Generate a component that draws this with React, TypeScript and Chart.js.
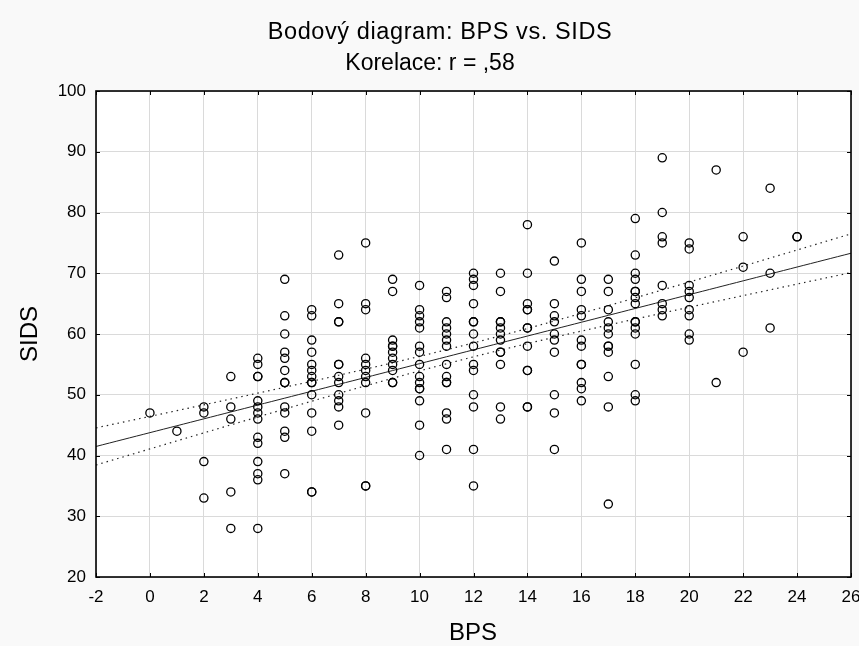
import React, { useEffect, useRef } from "react";
import { Chart, registerables } from "chart.js";

Chart.register(...registerables);

// ---- Text ----
const TITLE_LINE_1 = "Bodový diagram: BPS vs. SIDS";
const TITLE_LINE_2 = "Korelace: r = ,58";
const X_AXIS_LABEL = "BPS";
const Y_AXIS_LABEL = "SIDS";

// ---- Axes ----
const X_MIN = -2;
const X_MAX = 26;
const X_STEP = 2;
const Y_MIN = 20;
const Y_MAX = 100;
const Y_STEP = 10;

// ---- Data: BPS levels and SIDS values observed at each level ----
const BPS_LEVELS = [0, 1, 2, 3, 4, 5, 6, 7, 8, 9, 10, 11, 12, 13, 14, 15, 16, 17, 18, 19, 20, 21, 22, 23, 24];
const SIDS_BY_LEVEL = [
  [47],
  [44],
  [48, 47, 39, 33],
  [53, 48, 46, 34, 28],
  [56, 55, 53, 53, 49, 48, 47, 46, 43, 42, 39, 37, 36, 28],
  [69, 63, 60, 57, 56, 54, 52, 52, 48, 47, 44, 43, 37],
  [64, 63, 59, 57, 55, 54, 53, 52, 52, 50, 47, 44, 34, 34],
  [73, 65, 62, 62, 55, 55, 53, 52, 50, 49, 48, 45],
  [75, 65, 64, 56, 55, 54, 53, 52, 47, 35, 35],
  [69, 67, 59, 58, 58, 57, 56, 55, 54, 52, 52],
  [68, 64, 63, 62, 61, 58, 57, 55, 53, 52, 51, 51, 49, 45, 40],
  [67, 66, 62, 61, 60, 59, 58, 55, 53, 52, 52, 47, 46, 41],
  [70, 69, 68, 65, 62, 62, 60, 58, 55, 54, 50, 48, 41, 35],
  [70, 67, 62, 62, 61, 60, 59, 57, 57, 55, 48, 46],
  [78, 70, 65, 64, 64, 61, 61, 58, 54, 54, 48, 48],
  [72, 65, 63, 62, 60, 59, 57, 50, 47, 41],
  [75, 69, 67, 64, 63, 59, 58, 55, 55, 52, 51, 49],
  [69, 67, 64, 62, 61, 60, 58, 58, 57, 53, 48, 32],
  [79, 73, 70, 69, 67, 67, 66, 65, 62, 62, 61, 60, 55, 50, 49],
  [89, 80, 76, 75, 68, 65, 64, 63],
  [75, 74, 68, 67, 66, 64, 63, 60, 59],
  [87, 52],
  [76, 71, 57],
  [84, 70, 61],
  [76, 76],
];

const FONT = "'Liberation Sans', Arial, sans-serif";

export default function App() {
  const ref = useRef<HTMLCanvasElement | null>(null);

  useEffect(() => {
    const canvas = ref.current;
    if (!canvas) return;

    const points: { x: number; y: number }[] = [];
    BPS_LEVELS.forEach((x, i) => SIDS_BY_LEVEL[i].forEach((y) => points.push({ x, y })));

    // Least-squares fit and 95% confidence band of the mean
    const n = points.length;
    const mx = points.reduce((s, p) => s + p.x, 0) / n;
    const my = points.reduce((s, p) => s + p.y, 0) / n;
    let sxx = 0;
    let sxy = 0;
    points.forEach((p) => {
      sxx += (p.x - mx) * (p.x - mx);
      sxy += (p.x - mx) * (p.y - my);
    });
    const slope = sxy / sxx;
    const intercept = my - slope * mx;
    let sse = 0;
    points.forEach((p) => {
      const r = p.y - (intercept + slope * p.x);
      sse += r * r;
    });
    const se = Math.sqrt(sse / (n - 2));
    const tval = 1.97;
    const fit: { x: number; y: number }[] = [];
    const upper: { x: number; y: number }[] = [];
    const lower: { x: number; y: number }[] = [];
    for (let k = 0; k <= 112; k++) {
      const x = X_MIN + (k * (X_MAX - X_MIN)) / 112;
      const yh = intercept + slope * x;
      const h = tval * se * Math.sqrt(1 / n + ((x - mx) * (x - mx)) / sxx);
      fit.push({ x, y: yh });
      upper.push({ x, y: yh + h });
      lower.push({ x, y: yh - h });
    }

    const decor = {
      id: "decor",
      beforeDraw(chart: any) {
        const { ctx, chartArea: a } = chart;
        ctx.save();
        ctx.fillStyle = "#f9f9f9";
        ctx.fillRect(0, 0, chart.width, chart.height);
        ctx.fillStyle = "#ffffff";
        ctx.fillRect(a.left, a.top, a.right - a.left, a.bottom - a.top);
        ctx.restore();
      },
      afterDraw(chart: any) {
        const { ctx, chartArea: a, scales } = chart;
        ctx.save();
        // frame
        ctx.strokeStyle = "#000";
        ctx.lineWidth = 1.6;
        ctx.strokeRect(a.left, a.top, a.right - a.left, a.bottom - a.top);
        // inner ticks
        ctx.lineWidth = 1;
        const tl = 4;
        ctx.beginPath();
        for (let v = X_MIN; v <= X_MAX; v += X_STEP) {
          const px = Math.round(scales.x.getPixelForValue(v)) + 0.5;
          ctx.moveTo(px, a.bottom);
          ctx.lineTo(px, a.bottom - tl);
          ctx.moveTo(px, a.top);
          ctx.lineTo(px, a.top + tl);
        }
        for (let v = Y_MIN; v <= Y_MAX; v += Y_STEP) {
          const py = Math.round(scales.y.getPixelForValue(v)) + 0.5;
          ctx.moveTo(a.left, py);
          ctx.lineTo(a.left + tl, py);
          ctx.moveTo(a.right, py);
          ctx.lineTo(a.right - tl, py);
        }
        ctx.stroke();
        // titles
        ctx.fillStyle = "#000";
        ctx.textAlign = "center";
        ctx.textBaseline = "alphabetic";
        ctx.font = `23.5px ${FONT}`;
        if ("letterSpacing" in ctx) (ctx as any).letterSpacing = "0.6px";
        ctx.fillText(TITLE_LINE_1, 440, 39);
        if ("letterSpacing" in ctx) (ctx as any).letterSpacing = "0px";
        ctx.font = `23px ${FONT}`;
        ctx.fillText(TITLE_LINE_2, 430, 70);
        // axis titles
        ctx.font = `24px ${FONT}`;
        ctx.fillText(X_AXIS_LABEL, 473, 640);
        ctx.translate(37, 334);
        ctx.rotate(-Math.PI / 2);
        ctx.fillText(Y_AXIS_LABEL, 0, 0);
        ctx.restore();
      },
    };

    const chart = new Chart(canvas, {
      type: "scatter",
      data: {
        datasets: [
          {
            data: points,
            pointStyle: "circle",
            pointRadius: 4.1,
            pointBorderWidth: 1.3,
            borderColor: "#000",
            backgroundColor: "rgba(0,0,0,0)",
            showLine: false,
            order: 0,
          } as any,
          {
            data: fit,
            showLine: true,
            pointRadius: 0,
            borderColor: "#222",
            borderWidth: 1,
            order: 1,
          },
          {
            data: upper,
            showLine: true,
            pointRadius: 0,
            borderColor: "#222",
            borderWidth: 1.2,
            borderDash: [1.5, 4],
            order: 1,
          },
          {
            data: lower,
            showLine: true,
            pointRadius: 0,
            borderColor: "#222",
            borderWidth: 1.2,
            borderDash: [1.5, 4],
            order: 1,
          },
        ],
      },
      options: {
        responsive: false,
        animation: false,
        devicePixelRatio: 1,
        events: [],
        layout: { padding: { left: 0, top: 91, right: 8, bottom: 0 } },
        plugins: {
          legend: { display: false },
          tooltip: { enabled: false },
          title: { display: false },
        },
        scales: {
          x: {
            type: "linear",
            min: X_MIN,
            max: X_MAX,
            ticks: {
              stepSize: X_STEP,
              autoSkip: false,
              color: "#000",
              padding: 10,
              font: { family: FONT, size: 17 },
              maxRotation: 0,
            },
            grid: { color: "#dadada", lineWidth: 1, drawTicks: false },
            border: { display: false },
            afterFit: (s: any) => {
              s.height = 69;
              s.paddingLeft = 0;
              s.paddingRight = 0;
            },
          },
          y: {
            type: "linear",
            min: Y_MIN,
            max: Y_MAX,
            ticks: {
              stepSize: Y_STEP,
              autoSkip: false,
              color: "#000",
              padding: 10,
              font: { family: FONT, size: 17 },
            },
            grid: { color: "#dadada", lineWidth: 1, drawTicks: false },
            border: { display: false },
            afterFit: (s: any) => {
              s.width = 96;
              s.paddingTop = 0;
              s.paddingBottom = 0;
            },
          },
        },
      },
      plugins: [decor],
    } as any);

    return () => chart.destroy();
  }, []);

  return (
    <div style={{ position: "fixed", left: 0, top: 0, width: 859, height: 646, background: "#f9f9f9" }}>
      <canvas ref={ref} width={859} height={646} style={{ display: "block", width: 859, height: 646 }} />
    </div>
  );
}
